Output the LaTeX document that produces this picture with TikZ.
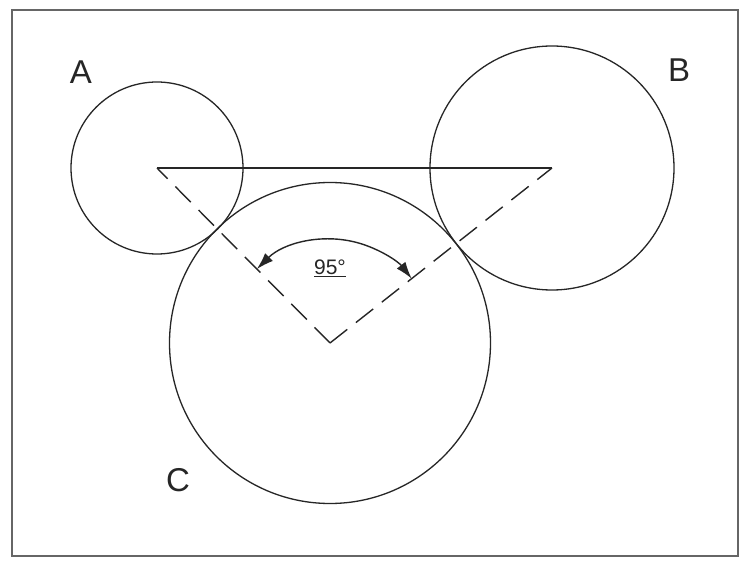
\documentclass[tikz,border=0pt]{standalone}
\usepackage{fontspec}
\setmainfont{Liberation Sans}
\usetikzlibrary{arrows.meta,calc}
\tikzset{
  ring/.style={draw=black!85, line width=1.3pt, circle, inner sep=0pt},
  frameline/.style={draw=black!60, line width=2pt},
  dashline/.style={draw=black!85, line width=1.4pt, dash pattern=on 22pt off 11pt},
  solidline/.style={draw=black!85, line width=1.3pt},
  anglearc/.style={draw=black!85, line width=1.4pt, {Latex[length=17pt,width=11pt]}-{Latex[length=17pt,width=11pt]}},
  biglabel/.style={font=\fontsize{33}{36}\selectfont, text=black!85},
  smalllabel/.style={font=\fontsize{21}{24}\selectfont, text=black!85}
}
\begin{document}
\begin{tikzpicture}[x=1pt,y=-1pt]
  \useasboundingbox (0,0) rectangle (745,564);
  \fill[white] (0,0) rectangle (745,564);
  \draw[frameline] (12,10) rectangle (738,556);
  \coordinate (A) at (157,168);
  \coordinate (B) at (552,168);
  \coordinate (C) at (330,343);
  \node[ring, minimum size=172pt] (cA) at (A) {};
  \node[ring, minimum size=244pt] (cB) at (B) {};
  \node[ring, minimum size=321pt] (cC) at (C) {};
  \draw[solidline] (A) -- (B);
  \draw[dashline] (C) -- (A);
  \draw[dashline] (C) -- (B);
  \draw[anglearc] ($(C)+(134.7:104pt)$) arc[start angle=134.7, end angle=38.25, radius=104pt];
  \node[smalllabel] (ang) at (330,268) {\underline{95°}};
  \node[biglabel] (lA) at (81,72) {A};
  \node[biglabel] (lB) at (679,70) {B};
  \node[biglabel] (lC) at (178,480) {C};
\end{tikzpicture}
\end{document}
